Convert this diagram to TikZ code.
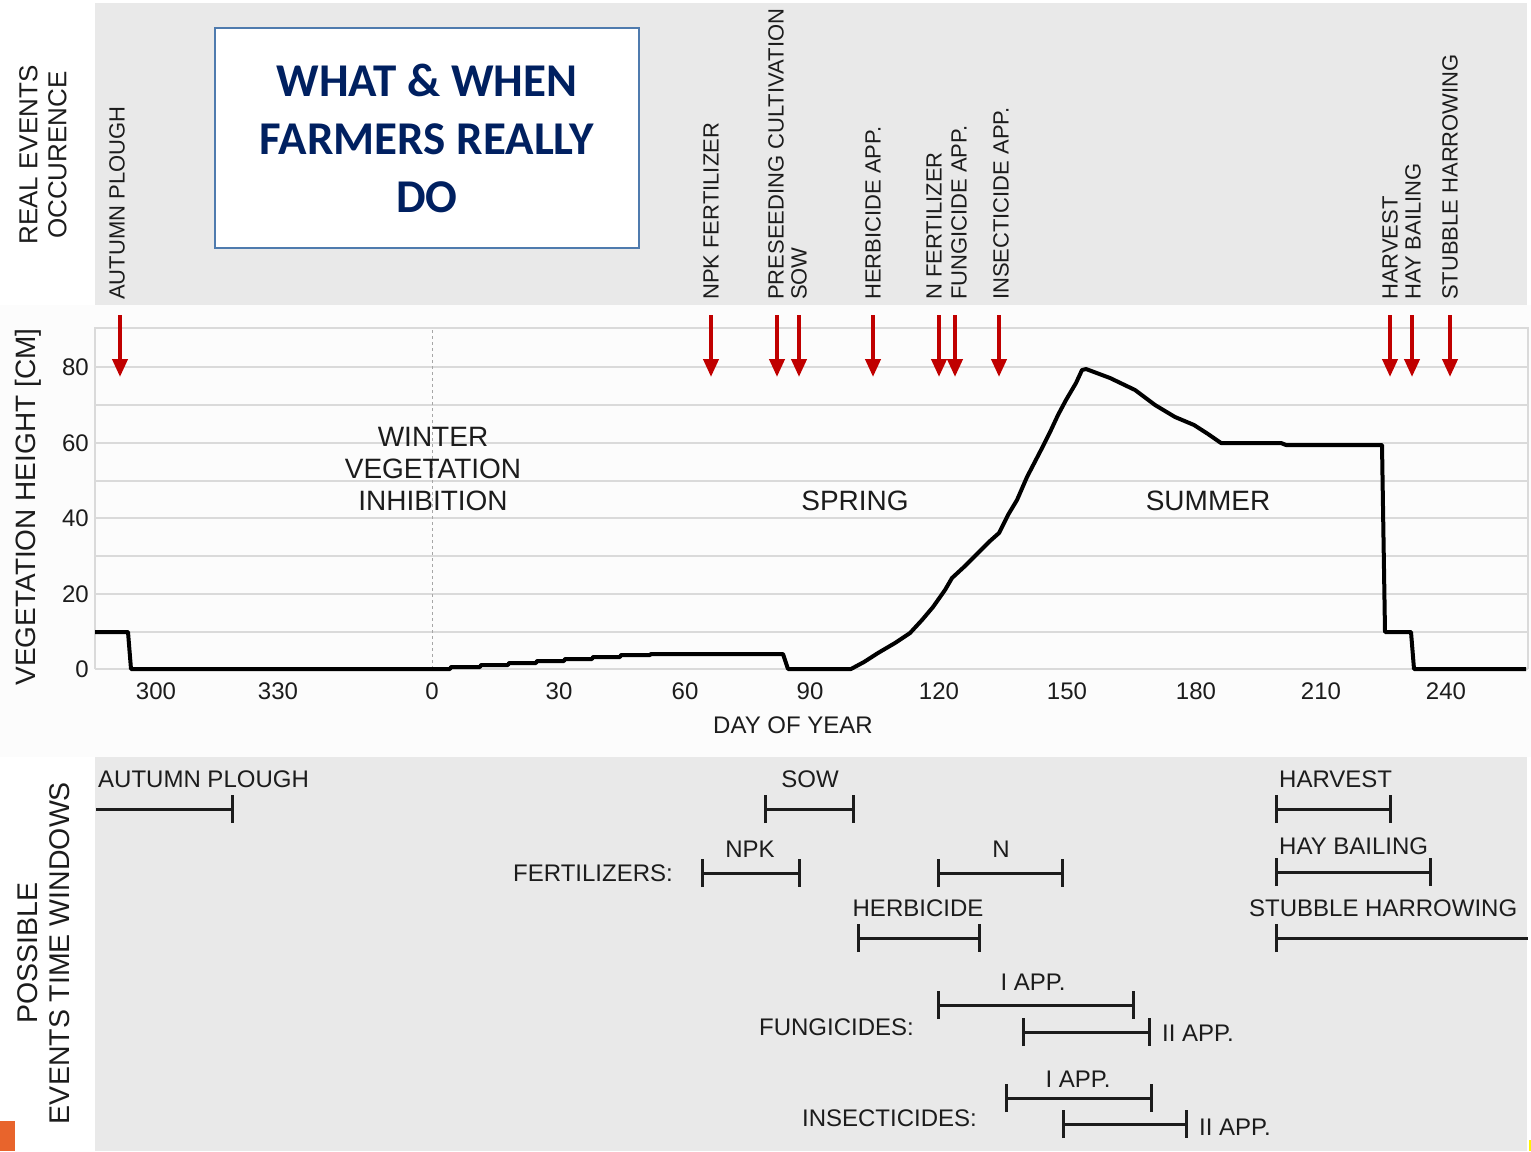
\documentclass[tikz,border=0pt]{standalone}
\usepackage{fontspec}
\setmainfont{Liberation Sans}
\newfontfamily\titlefont{Carlito}
\usetikzlibrary{arrows.meta,positioning}

\definecolor{panelgray}{HTML}{E9E9E9}
\definecolor{chartwhite}{HTML}{FCFCFC}
\definecolor{gridgray}{HTML}{DADADA}
\definecolor{eventred}{HTML}{C00000}
\definecolor{titleblue}{HTML}{002060}
\definecolor{boxblue}{HTML}{4F7BAE}
\definecolor{inkgray}{HTML}{1C1C1C}
\definecolor{cornerorange}{HTML}{E8642C}

\tikzset{
  evlabel/.style={rotate=90, anchor=west, inner sep=0pt, text=inkgray,
    font=\fontsize{22}{24}\selectfont},
  evarrow/.style={eventred, line width=4pt, -{Triangle[length=18pt, width=15pt]}},
  sidelabel/.style={rotate=90, align=center, inner sep=0pt, text=inkgray},
  ticklabel/.style={inner sep=0pt, text=inkgray, font=\fontsize{24}{26}\selectfont},
  season/.style={align=center, inner sep=0pt, text=inkgray,
    font=\fontsize{28}{32}\selectfont},
  winlabel/.style={inner sep=0pt, text=inkgray, font=\fontsize{24}{26}\selectfont},
  gridline/.style={gridgray, line width=2pt},
  growth/.style={black, line width=4pt, line join=round},
  window/.style={inkgray, line width=3pt, {Bar[width=28pt]}-{Bar[width=28pt]}},
  openwindow/.style={inkgray, line width=3pt},
  titlebox/.style={draw=boxblue, line width=2pt, fill=white, minimum width=424pt,
    minimum height=220pt, align=center, text=titleblue, inner sep=0pt,
    font=\titlefont\bfseries\fontsize{47}{58}\selectfont}
}

\begin{document}
\begin{tikzpicture}[x=1pt, y=-1pt]
\useasboundingbox (0,0) rectangle (1531,1151);

% panels
\fill[panelgray] (95,3) rectangle (1527,305);
\fill[chartwhite] (0,305) rectangle (1531,757);
\fill[panelgray] (95,757) rectangle (1527,1151);
\fill[cornerorange] (0,1121) rectangle (15,1151);
\fill[yellow] (1529,1140) rectangle (1531,1151);

% side titles
\node[sidelabel, font=\fontsize{26}{29}\selectfont] (realevents) at (43,155) {REAL EVENTS\\OCCURENCE};
\node[sidelabel, font=\fontsize{28}{30}\selectfont] (vegheight) at (28,507) {VEGETATION HEIGHT [CM]};
\node[sidelabel, font=\fontsize{28.5}{32}\selectfont] (windows) at (44,953) {POSSIBLE\\EVENTS TIME WINDOWS};

\node[titlebox] (title) at (427,138) {WHAT \& WHEN\\FARMERS REALLY\\DO};

% real events
\node[evlabel] (eplough) at (117,300) {AUTUMN PLOUGH};
\node[evlabel] (enpk) at (711,300) {NPK FERTILIZER};
\node[evlabel] (epresow) at (776,300) {PRESEEDING CULTIVATION};
\node[evlabel] (esow) at (799,300) {SOW};
\node[evlabel] (eherb) at (873,300) {HERBICIDE APP.};
\node[evlabel] (enfert) at (934,300) {N FERTILIZER};
\node[evlabel] (efung) at (959,300) {FUNGICIDE APP.};
\node[evlabel] (einsect) at (1001,300) {INSECTICIDE APP.};
\node[evlabel] (eharvest) at (1390,300) {HARVEST};
\node[evlabel] (ehay) at (1413,300) {HAY BAILING};
\node[evlabel] (estubble) at (1450,300) {STUBBLE HARROWING};

% grid
\foreach \y in {367,405,443,481,518,556,594,632,669}
  \draw[gridline] (95,\y) -- (1528,\y);
\draw[gridline] (95,669) -- (95,328) -- (1528,328) -- (1528,669);
\draw[gray!70, line width=1pt, dash pattern=on 3pt off 3pt] (432,330) -- (432,669);

\foreach \x in {120,711,777,799,873,939,955,999,1390,1412,1450}
  \draw[evarrow] (\x,315) -- (\x,377);

% axes
\foreach \v/\y in {0/669,20/594,40/518,60/443,80/367}
  \node[ticklabel, anchor=east] (y\v) at (89,\y) {\v};
\foreach \v/\x in {300/156,330/278,0/432,30/559,60/685,90/810,120/939,150/1067,180/1196,210/1321,240/1446}
  \node[ticklabel] (x\v) at (\x,691) {\v};
\node[ticklabel] (dayofyear) at (793,725) {DAY OF YEAR};

\node[season] (winter) at (433,469) {WINTER\\VEGETATION\\INHIBITION};
\node[season] (spring) at (855,501) {SPRING};
\node[season] (summer) at (1208,501) {SUMMER};

% vegetation height
\draw[growth] (95,632) -- (128,632) -- (131,669) -- (450,669) -- (451,667) -- (480,667)
  -- (481,665) -- (508,665) -- (509,663) -- (536,663) -- (537,661) -- (564,661)
  -- (565,659) -- (592,659) -- (593,657) -- (620,657) -- (621,655) -- (650,655)
  -- (651,654) -- (783,654) -- (788,669) -- (851,669) -- (864,662) -- (878,653)
  -- (895,643) -- (910,633) -- (922,620) -- (933,607) -- (945,590) -- (952,578)
  -- (965,566) -- (980,551) -- (990,541) -- (999,533) -- (1008,515) -- (1017,500)
  -- (1027,477) -- (1041,450) -- (1051,430) -- (1058,415) -- (1066,400) -- (1076,383)
  -- (1082,370) -- (1086,369) -- (1110,378) -- (1135,390) -- (1155,405) -- (1175,417)
  -- (1194,425) -- (1208,434) -- (1221,443) -- (1281,443) -- (1286,445) -- (1382,445)
  -- (1385,632) -- (1411,632) -- (1414,669) -- (1526,669);

% time windows
\node[winlabel, anchor=west] (wplough) at (98,779) {AUTUMN PLOUGH};
\draw[openwindow, -{Bar[width=28pt]}] (96,809) -- (234,809);
\node[winlabel] (wsow) at (810,779) {SOW};
\draw[window] (764,809) -- (855,809);

\node[winlabel, anchor=east] (wfert) at (673,873) {FERTILIZERS:};
\node[winlabel] (wnpk) at (750,849) {NPK};
\draw[window] (701,873) -- (801,873);
\node[winlabel] (wn) at (1001,849) {N};
\draw[window] (937,873) -- (1064,873);

\node[winlabel] (wherb) at (918,908) {HERBICIDE};
\draw[window] (857,938) -- (981,938);

\node[winlabel, anchor=east] (wfung) at (914,1027) {FUNGICIDES:};
\node[winlabel] (wfungi) at (1033,982) {I APP.};
\draw[window] (937,1005) -- (1135,1005);
\node[winlabel, anchor=west] (wfungii) at (1162,1033) {II APP.};
\draw[window] (1022,1032) -- (1151,1032);

\node[winlabel, anchor=east] (winsect) at (977,1118) {INSECTICIDES:};
\node[winlabel] (winsecti) at (1078,1079) {I APP.};
\draw[window] (1005,1098) -- (1153,1098);
\node[winlabel, anchor=west] (winsectii) at (1199,1127) {II APP.};
\draw[window] (1062,1124) -- (1188,1124);

\node[winlabel, anchor=west] (wharvest) at (1279,779) {HARVEST};
\draw[window] (1275,809) -- (1392,809);
\node[winlabel, anchor=west] (whay) at (1279,846) {HAY BAILING};
\draw[window] (1275,872) -- (1432,872);
\node[winlabel, anchor=west] (wstubble) at (1249,908) {STUBBLE HARROWING};
\draw[openwindow, {Bar[width=28pt]}-] (1275,938) -- (1528,938);
\end{tikzpicture}
\end{document}
